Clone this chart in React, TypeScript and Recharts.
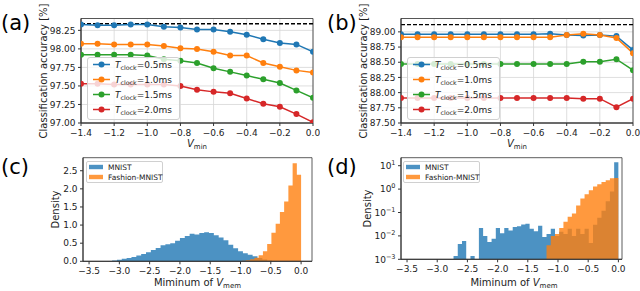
import React from 'react';
import {
  LineChart, Line, XAxis, YAxis, CartesianGrid, ReferenceLine, ReferenceArea,
  ComposedChart, Area,
} from 'recharts';

const FONT = 'DejaVu Sans, sans-serif';
const C_BLUE = '#1f77b4';
const C_ORANGE = '#ff7f0e';
const C_GREEN = '#2ca02c';
const C_RED = '#d62728';
const TXT = '#222';

// ---- panels (a) / (b): accuracy vs V_min ----
const vmin = [-1.4, -1.3, -1.2, -1.1, -1.0, -0.9, -0.8, -0.7, -0.6, -0.5, -0.4, -0.3, -0.2, -0.1, 0.0];
const accA_05 = [98.33, 98.32, 98.32, 98.33, 98.33, 98.30, 98.29, 98.26, 98.26, 98.23, 98.19, 98.13, 98.08, 98.06, 97.96];
const accA_10 = [98.07, 98.07, 98.06, 98.06, 98.06, 98.04, 98.01, 98.00, 97.96, 97.91, 97.91, 97.81, 97.76, 97.71, 97.68];
const accA_15 = [97.92, 97.92, 97.92, 97.92, 97.91, 97.86, 97.84, 97.81, 97.74, 97.69, 97.64, 97.59, 97.54, 97.44, 97.34];
const accA_20 = [97.53, 97.53, 97.52, 97.52, 97.52, 97.52, 97.50, 97.45, 97.42, 97.40, 97.33, 97.26, 97.22, 97.12, 97.01];
const accB_05 = [88.96, 88.96, 88.96, 88.96, 88.96, 88.96, 88.96, 88.96, 88.96, 88.97, 88.95, 88.94, 88.95, 88.93, 88.70];
const accB_10 = [88.91, 88.91, 88.91, 88.91, 88.91, 88.91, 88.91, 88.91, 88.91, 88.91, 88.95, 88.97, 88.95, 88.90, 88.65];
const accB_15 = [88.47, 88.47, 88.47, 88.47, 88.47, 88.47, 88.47, 88.47, 88.47, 88.47, 88.47, 88.51, 88.51, 88.55, 88.37];
const accB_20 = [87.91, 87.91, 87.91, 87.91, 87.91, 87.91, 87.91, 87.91, 87.91, 87.91, 87.91, 87.90, 87.90, 87.76, 87.90];
const baselineA = 98.34;
const baselineB = 89.12;
const clockLabels = ['0.5ms', '1.0ms', '1.5ms', '2.0ms'];
const seriesColors = [C_BLUE, C_ORANGE, C_GREEN, C_RED];
const xTicksAcc = [-1.4, -1.2, -1.0, -0.8, -0.6, -0.4, -0.2, 0.0];
const yTicksA = [97.0, 97.25, 97.5, 97.75, 98.0, 98.25];
const yTicksB = [87.5, 87.75, 88.0, 88.25, 88.5, 88.75, 89.0];

// ---- panels (c) / (d): histograms of min V_mem ----
const histTicks = [-3.5, -3.0, -2.5, -2.0, -1.5, -1.0, -0.5, 0.0];
const histC_yTicks = [0, 0.5, 1.0, 1.5, 2.0, 2.5];
const histD_yTicks = [0.001, 0.01, 0.1, 1, 10];

const histC_mnistStart = -3.2;
const histC_mnistWidth = 0.08;
const histC_mnist = [0.01, 0.02, 0.04, 0.07, 0.09, 0.12, 0.16, 0.2, 0.25, 0.31, 0.37, 0.44, 0.47, 0.5, 0.57, 0.64, 0.7, 0.76, 0.74, 0.78, 0.8, 0.78, 0.72, 0.66, 0.58, 0.46, 0.36, 0.28, 0.22, 0.18, 0.14, 0.09, 0.05, 0.02];
const histC_fashionStart = -0.98;
const histC_fashionWidth = 0.07;
const histC_fashion = [0.015, 0.03, 0.06, 0.10, 0.17, 0.28, 0.48, 0.79, 1.04, 1.36, 1.65, 2.09, 2.71, 2.39];

const histD_mnistStart = -2.73;
const histD_mnistWidth = 0.07;
const histD_mnist = [0.0014, 0.0045, 0.006, 0.001, 0.0014, 0.001, 0.022, 0.010, 0.0055, 0.0075, 0.022, 0.013, 0.022, 0.017, 0.024, 0.026, 0.031, 0.033, 0.020, 0.016, 0.027, 0.009, 0.012, 0.020, 0.010, 0.015, 0.012, 0.020, 0.010, 0.020, 0.012, 0.020, 0.005, 0.030, 0.060, 0.12, 0.30, 0.8, 14];
const histD_fashionStart = -1.19;
const histD_fashionWidth = 0.07;
const histD_fashion = [0.004, 0.01, 0.012, 0.022, 0.04, 0.066, 0.09, 0.2, 0.4, 0.6, 0.9, 1.3, 1.6, 2.0, 2.4, 2.9, 3.0];

const histLegend = ['MNIST', 'Fashion-MNIST'];

// ---- helpers ----
const fmtMinus = (s: string) => s.replace('-', '\u2212');
const fmt1 = (v: number) => fmtMinus((Math.abs(v) < 1e-9 ? 0 : v).toFixed(1));
const fmt2 = (v: number) => v.toFixed(2);

function stepRows(start: number, width: number, vals: number[]) {
  const rows = vals.map((y, i) => ({ x: +(start + i * width).toFixed(4), y }));
  rows.push({ x: +(start + vals.length * width).toFixed(4), y: vals[vals.length - 1] });
  return rows;
}

function accRows(s0: number[], s1: number[], s2: number[], s3: number[]) {
  return vmin.map((v, i) => ({ v, s0: s0[i], s1: s1[i], s2: s2[i], s3: s3[i] }));
}

const rowsA = accRows(accA_05, accA_10, accA_15, accA_20);
const rowsB = accRows(accB_05, accB_10, accB_15, accB_20);

const tickStyle = { fontSize: 9, fill: TXT, fontFamily: FONT };

function AccChart({ rows, domain, ticks, dashed }: { rows: any[]; domain: [number, number]; ticks: number[]; dashed: number }) {
  return (
    <LineChart width={320} height={152} data={rows} margin={{ top: 18.5, right: 7, bottom: 9, left: 0 }}>
      <CartesianGrid stroke="#d6d6d6" strokeWidth={0.8} />
      <XAxis dataKey="v" type="number" domain={[-1.4, 0]} ticks={xTicksAcc} tickFormatter={fmt1}
        tick={tickStyle} tickSize={3} tickMargin={3.5} height={20} stroke="#333" allowDataOverflow interval={0} />
      <YAxis type="number" domain={domain} ticks={ticks} tickFormatter={fmt2} tick={tickStyle}
        tickSize={3} tickMargin={2.5} width={81} stroke="#333" allowDataOverflow interval={0} />
      <ReferenceLine y={dashed} stroke="#000" strokeDasharray="4 2" strokeWidth={1.4} />
      {['s0', 's1', 's2', 's3'].map((k, i) => (
        <Line key={k} dataKey={k} type="linear" stroke={seriesColors[i]} strokeWidth={1.5}
          dot={{ r: 3, fill: seriesColors[i], stroke: seriesColors[i], strokeWidth: 0 }}
          activeDot={false} isAnimationActive={false} />
      ))}
      <ReferenceArea x1={-1.4} x2={0} y1={domain[0]} y2={domain[1]} fill="none" stroke="#333" strokeWidth={0.8} ifOverflow="visible" />
    </LineChart>
  );
}

function LogTick(props: any) {
  const { x, y, payload } = props;
  const e = Math.round(Math.log10(payload.value));
  return (
    <text x={x} y={y} dy={3.2} textAnchor="end" fontSize={9} fill={TXT} fontFamily={FONT}>
      10<tspan dy={-4} fontSize={6.5}>{e < 0 ? '\u2212' + -e : String(e)}</tspan>
    </text>
  );
}

function HistChart({ blue, orange, xDomain, yDomain, log, right }: any) {
  return (
    <ComposedChart width={320} height={146} margin={{ top: 12.7, right, bottom: log ? 11.7 : 9.7, left: 0 }}>
      <XAxis dataKey="x" type="number" domain={xDomain} ticks={histTicks} tickFormatter={fmt1}
        tick={tickStyle} tickSize={3} tickMargin={3.5} height={20} stroke="#333" allowDataOverflow interval={0} />
      {log ? (
        <YAxis type="number" scale="log" domain={yDomain} ticks={histD_yTicks} tick={<LogTick />}
          tickSize={3} tickMargin={2.5} width={81} stroke="#333" allowDataOverflow interval={0} />
      ) : (
        <YAxis type="number" domain={yDomain} ticks={histC_yTicks} tickFormatter={(v: number) => v.toFixed(1)} tick={tickStyle}
          tickSize={3} tickMargin={2.5} width={83} stroke="#333" allowDataOverflow interval={0} />
      )}
      <Area data={blue} dataKey="y" type="stepAfter" stroke="none" strokeWidth={0} fill={C_BLUE} fillOpacity={0.8}
        baseValue={yDomain[0]} dot={false} activeDot={false} isAnimationActive={false} />
      <Area data={orange} dataKey="y" type="stepAfter" stroke="none" strokeWidth={0} fill={C_ORANGE} fillOpacity={0.8}
        baseValue={yDomain[0]} dot={false} activeDot={false} isAnimationActive={false} />
      <ReferenceArea x1={xDomain[0]} x2={xDomain[1]} y1={yDomain[0]} y2={yDomain[1]} fill="none" stroke="#333" strokeWidth={0.8} ifOverflow="visible" />
    </ComposedChart>
  );
}

function LineLegend({ left, top }: { left: number; top: number }) {
  const w = 93, h = 63;
  return (
    <div style={{ position: 'absolute', left, top, width: w, height: h, background: 'rgba(255,255,255,0.8)', border: '1px solid #d0d0d0', borderRadius: 3, boxSizing: 'border-box' }}>
      <svg width={w} height={h} style={{ position: 'absolute', left: -1, top: -1 }}>
        {clockLabels.map((lab, i) => {
          const y = 7.5 + i * 15;
          return (
            <g key={lab}>
              <line x1={6} x2={23} y1={y} y2={y} stroke={seriesColors[i]} strokeWidth={1.5} />
              <circle cx={14.5} cy={y} r={3} fill={seriesColors[i]} />
              <text x={28} y={y + 3.3} fontSize={9} fill={TXT} fontFamily={FONT}>
                <tspan fontStyle="italic">T</tspan>
                <tspan fontSize={6.3} dy={1.8}>clock</tspan>
                <tspan dy={-1.8}>{'=' + lab}</tspan>
              </text>
            </g>
          );
        })}
      </svg>
    </div>
  );
}

function HistLegend({ left, top }: { left: number; top: number }) {
  const w = 77, h = 22;
  const cols = [C_BLUE, C_ORANGE];
  return (
    <div style={{ position: 'absolute', left, top, width: w, height: h, background: 'rgba(255,255,255,0.8)', border: '1px solid #d0d0d0', borderRadius: 2, boxSizing: 'border-box' }}>
      <svg width={w} height={h} style={{ position: 'absolute', left: -1, top: -1 }}>
        {histLegend.map((lab, i) => {
          const y = 6 + i * 10;
          return (
            <g key={lab}>
              <rect x={3} y={y - 2.2} width={14} height={4.4} fill={cols[i]} fillOpacity={0.8} />
              <text x={22} y={y + 2.6} fontSize={7.5} fill={TXT} fontFamily={FONT}>{lab}</text>
            </g>
          );
        })}
      </svg>
    </div>
  );
}

export default function App() {
  const cBlue = stepRows(histC_mnistStart, histC_mnistWidth, histC_mnist);
  const cOrange = stepRows(histC_fashionStart, histC_fashionWidth, histC_fashion);
  const dBlue = stepRows(histD_mnistStart, histD_mnistWidth, histD_mnist);
  const dOrange = stepRows(histD_fashionStart, histD_fashionWidth, histD_fashion);
  return (
    <div style={{ position: 'absolute', left: 0, top: 0, width: 640, height: 291, background: '#fff', overflow: 'hidden', fontFamily: FONT }}>
      <div style={{ position: 'absolute', left: 0, top: 0 }}>
        <AccChart rows={rowsA} domain={[97.0, 98.41]} ticks={yTicksA} dashed={baselineA} />
      </div>
      <div style={{ position: 'absolute', left: 320, top: 0 }}>
        <AccChart rows={rowsB} domain={[87.5, 89.22]} ticks={yTicksB} dashed={baselineB} />
      </div>
      <div style={{ position: 'absolute', left: 0, top: 145 }}>
        <HistChart blue={cBlue} orange={cOrange} xDomain={[-3.6, 0.18]} yDomain={[0, 2.86]} log={false} right={8} />
      </div>
      <div style={{ position: 'absolute', left: 320, top: 145 }}>
        <HistChart blue={dBlue} orange={dOrange} xDomain={[-3.6, 0.06]} yDomain={[0.001, 22]} log={true} right={18} />
      </div>
      <svg width={640} height={291} style={{ position: 'absolute', left: 0, top: 0, pointerEvents: 'none' }} fontFamily={FONT} fill="#000">
        <text x={1} y={30} fontSize={21}>(a)</text>
        <text x={327} y={30} fontSize={21}>(b)</text>
        <text x={1} y={174} fontSize={21}>(c)</text>
        <text x={327} y={174} fontSize={21}>(d)</text>
        <text transform="translate(47,71) rotate(-90)" textAnchor="middle" fontSize={10} fill={TXT}>Classification accuracy [%]</text>
        <text transform="translate(367,71) rotate(-90)" textAnchor="middle" fontSize={10} fill={TXT}>Classification accuracy [%]</text>
        <text transform="translate(58.5,209.5) rotate(-90)" textAnchor="middle" fontSize={10} fill={TXT}>Density</text>
        <text transform="translate(370.5,208.5) rotate(-90)" textAnchor="middle" fontSize={10} fill={TXT}>Density</text>
        <text x={197} y={147.3} textAnchor="middle" fontSize={10} fill={TXT}>
          <tspan fontStyle="italic">V</tspan><tspan fontSize={7} dy={2}>min</tspan>
        </text>
        <text x={517} y={147.3} textAnchor="middle" fontSize={10} fill={TXT}>
          <tspan fontStyle="italic">V</tspan><tspan fontSize={7} dy={2}>min</tspan>
        </text>
        <text x={197.5} y={286} textAnchor="middle" fontSize={10} fill={TXT}>
          Miminum of <tspan fontStyle="italic">V</tspan><tspan fontSize={7} dy={2}>mem</tspan>
        </text>
        <text x={514} y={286} textAnchor="middle" fontSize={10} fill={TXT}>
          Miminum of <tspan fontStyle="italic">V</tspan><tspan fontSize={7} dy={2}>mem</tspan>
        </text>
      </svg>
      <LineLegend left={87} top={57} />
      <LineLegend left={407} top={57} />
      <HistLegend left={86} top={161} />
      <HistLegend left={403} top={161} />
    </div>
  );
}
